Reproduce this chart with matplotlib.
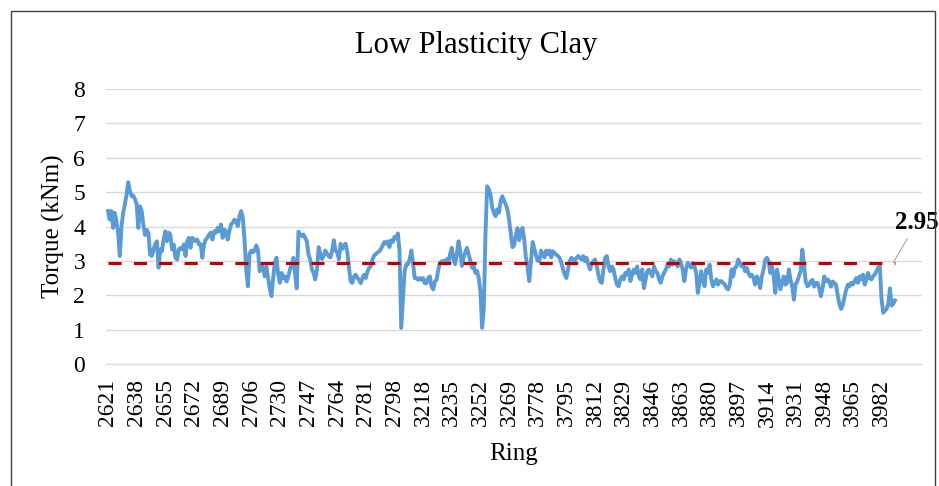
import numpy as np
import matplotlib
matplotlib.use("Agg")
import matplotlib.pyplot as plt
from matplotlib.patches import Rectangle

# ring labels shown on the category axis (one every 17 rings)
RING_LABELS = ["2621", "2638", "2655", "2672", "2689", "2706", "2730", "2747",
               "2764", "2781", "2798", "3218", "3235", "3252", "3269", "3778",
               "3795", "3812", "3829", "3846", "3863", "3880", "3897", "3914",
               "3931", "3948", "3965", "3982"]
LABEL_STEP = 17

# torque per ring (kNm)
torque = [
    4.45, 4.20, 4.45, 3.96, 4.40, 4.15, 3.80, 3.14, 4.00, 4.40, 4.64, 4.93, 5.29, 5.03, 4.88,
    4.90, 4.80, 4.65, 3.96, 4.59, 4.45, 4.05, 3.75, 3.90, 3.80, 3.18, 3.14, 3.33, 3.48, 3.57,
    2.80, 3.33, 3.28, 3.62, 3.86, 3.57, 3.82, 3.77, 3.33, 3.48, 3.09, 3.04, 3.33, 3.38, 3.33,
    3.48, 3.14, 3.57, 3.67, 3.38, 3.67, 3.62, 3.57, 3.62, 3.48,
    3.48, 3.09, 3.48, 3.62, 3.67, 3.77, 3.82, 3.62, 3.86, 3.82, 3.96, 3.86, 4.06, 3.67, 3.91,
    3.86, 3.62, 3.86, 4.06, 4.11, 4.20, 4.15, 4.01, 4.30, 4.45, 4.25, 3.62, 2.75, 2.26, 3.20,
    3.30, 3.25, 3.30, 3.45, 3.30, 2.70, 2.90, 2.80, 2.55, 2.84, 2.50, 2.20, 1.97, 2.50, 2.95,
    3.09, 2.60, 2.36, 2.65, 2.50, 2.55, 2.40, 2.55, 2.75, 2.90, 3.09, 2.60, 2.20, 3.85,
    3.77, 3.72, 3.77, 3.67, 3.57, 3.18, 3.04, 2.75, 2.65, 2.46, 2.75, 3.40, 3.20, 3.05, 3.15,
    3.30, 3.20, 3.14, 3.10, 3.30, 3.60, 3.30, 3.25, 3.05, 3.50, 3.35, 3.45, 3.50, 3.25, 2.80,
    2.40, 2.36, 2.55, 2.60, 2.50, 2.45, 2.35, 2.50, 2.60, 2.50, 2.70, 2.80, 2.85, 3.05, 3.16,
    3.20, 3.25, 3.28, 3.35, 3.45, 3.55, 3.50, 3.57, 3.40, 3.60, 3.55, 3.70, 3.65, 3.80, 3.28,
    1.05, 1.90, 2.70, 2.90, 2.90, 3.05, 3.30, 2.95, 2.50, 2.50, 2.45, 2.50, 2.45, 2.50, 2.35,
    2.35, 2.50, 2.55, 2.25, 2.17, 2.40, 2.45, 2.75, 2.94, 2.99, 3.00, 2.95, 3.05, 2.95, 3.20,
    3.38, 3.05, 2.90, 3.20, 3.57, 3.30, 2.85, 3.10, 3.25, 3.38, 3.20, 3.00, 2.80, 2.85, 2.65,
    2.70, 2.50, 2.10, 1.05, 1.60, 3.80, 5.17, 5.08, 4.93, 4.54, 4.40, 4.30, 4.50, 4.40,
    4.75, 4.88, 4.75, 4.64, 4.50, 4.20, 3.80, 3.40, 3.45, 3.75, 3.95, 3.60, 3.85, 3.96, 3.60,
    3.10, 2.80, 2.41, 3.00, 3.55, 3.35, 3.15, 3.00, 3.00, 3.30, 3.18, 3.10, 3.30, 3.20, 3.30,
    3.10, 3.28, 3.23, 3.18, 3.14, 3.09, 2.95, 2.75, 2.60, 2.50, 2.75, 3.00, 3.09, 3.04, 3.00,
    3.09, 3.14, 3.09, 3.04, 3.14, 2.99, 3.09, 2.90, 2.75, 2.90, 2.99, 3.04, 2.85, 2.60, 2.40,
    2.36, 2.75, 3.09, 3.14, 2.84, 2.70, 2.84, 2.75, 2.50, 2.31, 2.26, 2.46, 2.55, 2.46, 2.65,
    2.60, 2.75, 2.41, 2.60, 2.75, 2.65, 2.84, 2.55, 2.46, 2.75, 2.21, 2.46, 2.70, 2.75, 2.65,
    2.55, 2.84, 2.70, 2.65, 2.46, 2.36, 2.55, 2.65, 2.75, 2.89, 2.84, 3.04, 2.89, 2.99, 2.94,
    2.84, 3.04, 2.94, 2.75, 2.41, 2.75, 2.94, 2.89, 2.80, 2.94, 2.84, 2.65, 2.07, 2.36,
    2.70, 2.46, 2.26, 2.75, 2.65, 2.89, 2.46, 2.26, 2.36, 2.46, 2.31, 2.41, 2.41, 2.36, 2.31,
    2.21, 2.17, 2.31, 2.75, 2.55, 2.80, 2.84, 3.04, 2.94, 2.84, 2.89, 2.70, 2.80, 2.65, 2.55,
    2.60, 2.50, 2.31, 2.55, 2.46, 2.21, 2.55, 2.75, 3.04, 3.09, 2.99, 2.65, 2.84, 2.55, 2.07,
    2.75, 2.46, 2.17, 2.36, 2.55, 2.31, 2.36, 2.75, 2.46, 2.26, 1.87, 2.31, 2.41, 2.55,
    2.70, 3.33, 2.90, 2.40, 2.26, 2.30, 2.40, 2.45, 2.25, 2.36, 2.36, 2.21, 1.97, 2.20, 2.55,
    2.40, 2.46, 2.40, 2.25, 2.40, 2.36, 2.30, 2.00, 1.75, 1.60, 1.70, 1.95, 2.15, 2.31, 2.26,
    2.36, 2.31, 2.41, 2.50, 2.36, 2.55, 2.46, 2.60, 2.31, 2.46, 2.65, 2.50, 2.46, 2.55, 2.60,
    2.70, 2.80, 2.85, 1.90, 1.49, 1.55, 1.60, 1.75, 2.20, 1.70, 1.75, 1.85,
]
MEAN_TORQUE = 2.95

plt.rcParams["font.family"] = ["Liberation Serif", "DejaVu Serif"]

W, H = 939, 486
fig = plt.figure(figsize=(W / 100, H / 100), dpi=100)

# outer chart frame
fig.patches.append(Rectangle((11 / W, -0.05), (935 - 11) / W, (H - 11) / H + 0.05,
                             transform=fig.transFigure, fill=False,
                             edgecolor="#404040", linewidth=1.0))

ax = fig.add_axes([106 / W, (H - 364) / H, (922 - 106) / W, (364 - 89) / H])

x = np.arange(len(torque))
ax.plot(x, torque, color="#5B9BD5", linewidth=2.8, solid_joinstyle="round", zorder=3)
ax.plot(x, [MEAN_TORQUE] * len(x), color="#C00000", linewidth=2.2,
        dashes=(4.3, 4.0), zorder=4)

ax.annotate(f"{MEAN_TORQUE:.2f}", xy=(x[-1] - 1, MEAN_TORQUE), xytext=(917, H - 222),
            textcoords="figure pixels", fontsize=18, fontweight="bold",
            ha="center", va="center", annotation_clip=False,
            arrowprops=dict(arrowstyle="-", color="#A6A6A6", lw=0.8,
                            shrinkA=2, shrinkB=0))

ax.set_ylim(0, 8)
ax.set_yticks(range(0, 9))
px_per_cat = (895 - 108) / (len(torque) - 1)
ax.set_xlim(-2 / px_per_cat, len(torque) - 1 + 27 / px_per_cat)
ax.set_xticks(np.arange(len(RING_LABELS)) * LABEL_STEP)
ax.set_xticklabels(RING_LABELS, rotation=90)

ax.grid(axis="y", color="#D9D9D9", linewidth=1.0)
ax.set_axisbelow(True)
for side in ["top", "right", "left"]:
    ax.spines[side].set_visible(False)
ax.spines["bottom"].set_color("#D9D9D9")
ax.tick_params(axis="both", length=0, labelsize=17)
ax.tick_params(axis="x", pad=11)
ax.tick_params(axis="y", pad=15)

fig.text(476 / W, 1 - 46 / H, "Low Plasticity Clay", fontsize=22,
         ha="center", va="center")
ax.set_ylabel("Torque (kNm)", fontsize=18, labelpad=6)
ax.set_xlabel("Ring", fontsize=18, labelpad=12)

fig.savefig("out.png", dpi=100)
